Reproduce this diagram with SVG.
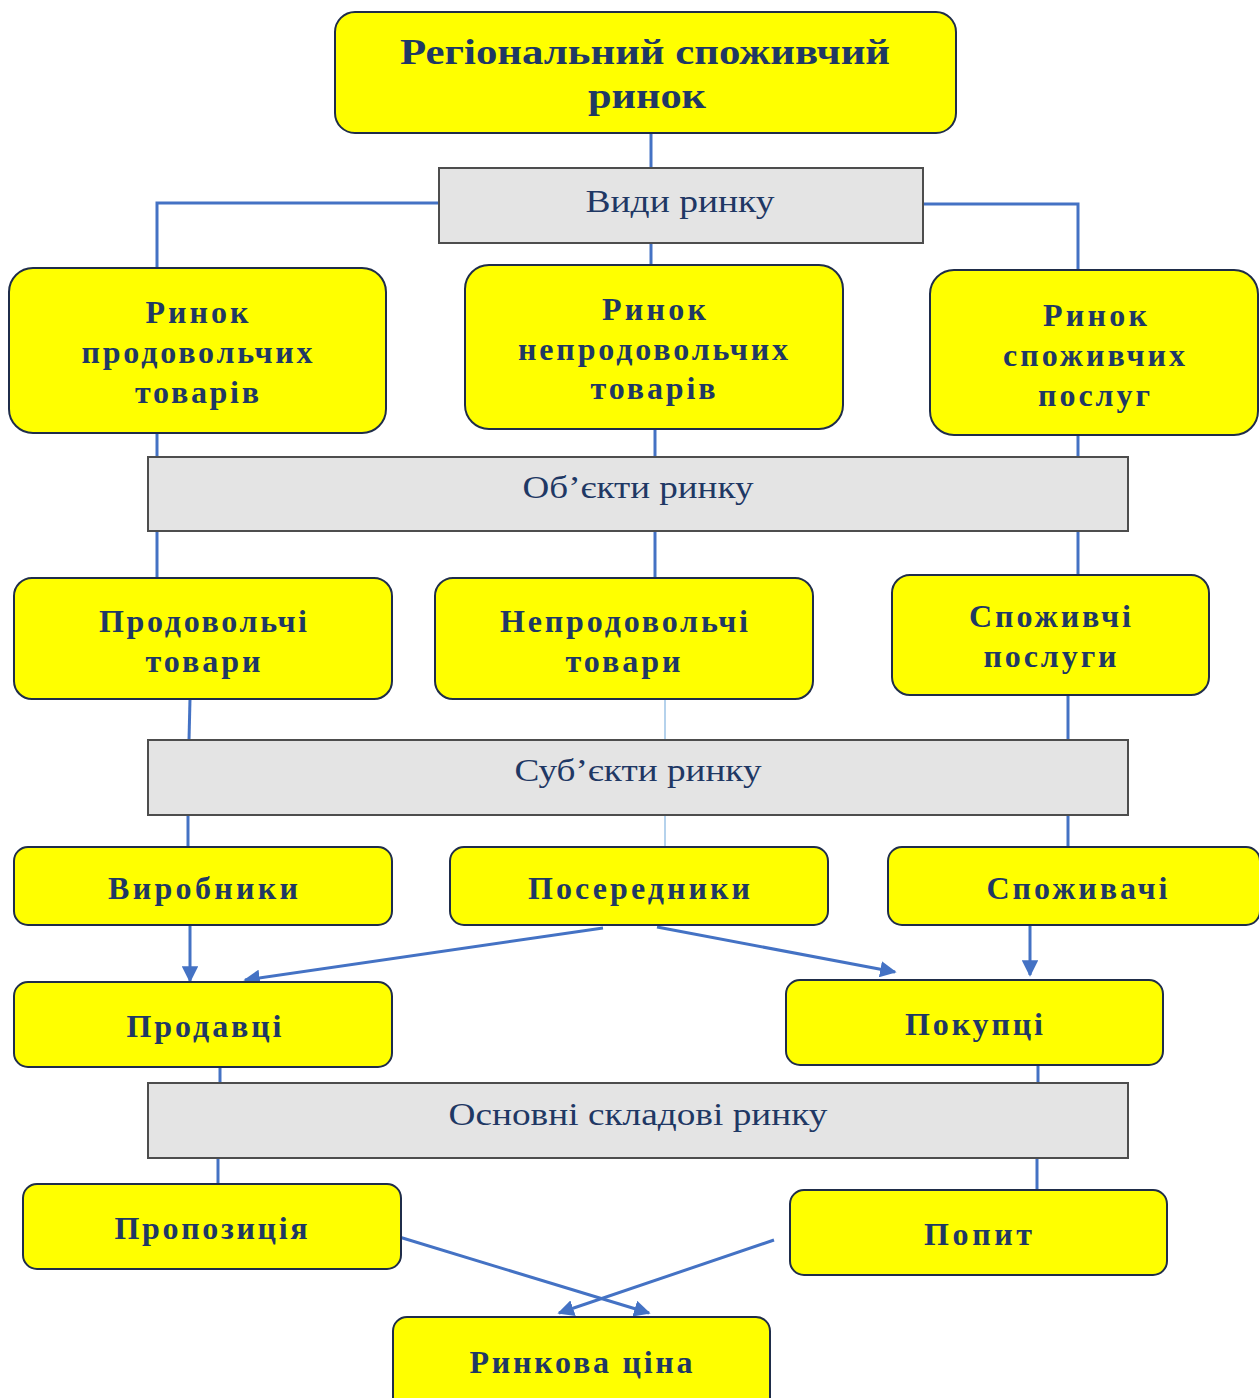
<svg xmlns="http://www.w3.org/2000/svg" width="1259" height="1398" viewBox="0 0 1259 1398">
<defs>
<style>
.n{fill:#ffff00;stroke:#1f2d4a;stroke-width:2}
.g{fill:#e4e4e4;stroke:#4d4d4d;stroke-width:2}
.t{font-family:"Liberation Serif",serif;font-weight:bold;font-size:32px;fill:#1f3864;text-anchor:middle}
.h{font-family:"Liberation Serif",serif;font-weight:bold;font-size:36px;fill:#1f3864;text-anchor:middle}
.l{font-family:"Liberation Serif",serif;font-size:31px;fill:#1f3864;text-anchor:middle}
.c{fill:none;stroke:#4472c4;stroke-width:3}
.c2{fill:none;stroke:#9dc3e6;stroke-width:1.5}
</style>
<marker id="a" viewBox="0 0 10 10" refX="9" refY="5" markerWidth="5.5" markerHeight="5.5" orient="auto" markerUnits="strokeWidth">
<path d="M0,0 L10,5 L0,10 z" fill="#4472c4"/>
</marker>
</defs>
<rect width="1259" height="1398" fill="#ffffff"/>
<g id="connectors">
<path class="c" d="M651,133 V168"/>
<path class="c" d="M439,203 H157 V268"/>
<path class="c" d="M923,204 H1078 V270"/>
<path class="c" d="M651,243 V265"/>
<path class="c" d="M157,433 V457"/>
<path class="c" d="M655,429 V457"/>
<path class="c" d="M1078,435 V457"/>
<path class="c" d="M157,531 V578"/>
<path class="c" d="M655,531 V578"/>
<path class="c" d="M1078,531 V575"/>
<path class="c" d="M190,699 L189,740"/>
<path class="c2" d="M665,699 V740"/>
<path class="c" d="M1068,695 V740"/>
<path class="c" d="M188,815 V847"/>
<path class="c2" d="M665,815 V847"/>
<path class="c" d="M1068,815 V847"/>
<path class="c" d="M190,925 V981" marker-end="url(#a)"/>
<path class="c" d="M603,928 L245,980" marker-end="url(#a)"/>
<path class="c" d="M657,927 L895,972" marker-end="url(#a)"/>
<path class="c" d="M1030,918 V975" marker-end="url(#a)"/>
<path class="c" d="M220,1067 V1083"/>
<path class="c" d="M1038,1065 V1083"/>
<path class="c" d="M218,1158 V1184"/>
<path class="c" d="M1037,1158 V1190"/>
<path class="c" d="M396,1236 L649,1313" marker-end="url(#a)"/>
<path class="c" d="M774,1240 L559,1313" marker-end="url(#a)"/>
</g>
<g id="n-top">
<rect class="n" x="335" y="12" width="621" height="121" rx="20"/>
<text class="h" x="645" y="64" textLength="490" lengthAdjust="spacingAndGlyphs">Регіональний споживчий</text>
<text class="h" x="647" y="108" textLength="118" lengthAdjust="spacingAndGlyphs">ринок</text>
</g>
<g id="n-vydy">
<rect class="g" x="439" y="168" width="484" height="75"/>
<text class="l" x="680" y="212" textLength="189" lengthAdjust="spacingAndGlyphs">Види ринку</text>
</g>
<g id="n-prod-market">
<rect class="n" x="9" y="268" width="377" height="165" rx="24"/>
<text class="t" x="197" y="323" textLength="103" lengthAdjust="spacing">Ринок</text>
<text class="t" x="197" y="363" textLength="231" lengthAdjust="spacing">продовольчих</text>
<text class="t" x="197" y="403" textLength="124" lengthAdjust="spacing">товарів</text>
</g>
<g id="n-nonprod-market">
<rect class="n" x="465" y="265" width="378" height="164" rx="24"/>
<text class="t" x="654" y="320" textLength="104" lengthAdjust="spacing">Ринок</text>
<text class="t" x="653" y="360" textLength="270" lengthAdjust="spacing">непродовольчих</text>
<text class="t" x="653" y="399" textLength="125" lengthAdjust="spacing">товарів</text>
</g>
<g id="n-services-market">
<rect class="n" x="930" y="270" width="328" height="165" rx="24"/>
<text class="t" x="1095" y="326" textLength="104" lengthAdjust="spacing">Ринок</text>
<text class="t" x="1094" y="366" textLength="182" lengthAdjust="spacing">споживчих</text>
<text class="t" x="1094" y="406" textLength="112" lengthAdjust="spacing">послуг</text>
</g>
<g id="n-objects">
<rect class="g" x="148" y="457" width="980" height="74"/>
<text class="l" x="638" y="498" textLength="231" lengthAdjust="spacingAndGlyphs">Об’єкти ринку</text>
</g>
<g id="n-food">
<rect class="n" x="14" y="578" width="378" height="121" rx="18"/>
<text class="t" x="203" y="632" textLength="208" lengthAdjust="spacing">Продовольчі</text>
<text class="t" x="203" y="672" textLength="115" lengthAdjust="spacing">товари</text>
</g>
<g id="n-nonfood">
<rect class="n" x="435" y="578" width="378" height="121" rx="18"/>
<text class="t" x="624" y="632" textLength="248" lengthAdjust="spacing">Непродовольчі</text>
<text class="t" x="623" y="672" textLength="115" lengthAdjust="spacing">товари</text>
</g>
<g id="n-services">
<rect class="n" x="892" y="575" width="317" height="120" rx="18"/>
<text class="t" x="1050" y="627" textLength="162" lengthAdjust="spacing">Споживчі</text>
<text class="t" x="1050" y="667" textLength="133" lengthAdjust="spacing">послуги</text>
</g>
<g id="n-subjects">
<rect class="g" x="148" y="740" width="980" height="75"/>
<text class="l" x="638" y="781" textLength="247" lengthAdjust="spacingAndGlyphs">Суб’єкти ринку</text>
</g>
<g id="n-producers">
<rect class="n" x="14" y="847" width="378" height="78" rx="14"/>
<text class="t" x="203" y="899" textLength="190" lengthAdjust="spacing">Виробники</text>
</g>
<g id="n-intermediaries">
<rect class="n" x="450" y="847" width="378" height="78" rx="14"/>
<text class="t" x="639" y="899" textLength="222" lengthAdjust="spacing">Посередники</text>
</g>
<g id="n-consumers">
<rect class="n" x="888" y="847" width="372" height="78" rx="14"/>
<text class="t" x="1077" y="899" textLength="181" lengthAdjust="spacing">Споживачі</text>
</g>
<g id="n-sellers">
<rect class="n" x="14" y="982" width="378" height="85" rx="14"/>
<text class="t" x="204" y="1037" textLength="155" lengthAdjust="spacing">Продавці</text>
</g>
<g id="n-buyers">
<rect class="n" x="786" y="980" width="377" height="85" rx="14"/>
<text class="t" x="974" y="1035" textLength="138" lengthAdjust="spacing">Покупці</text>
</g>
<g id="n-components">
<rect class="g" x="148" y="1083" width="980" height="75"/>
<text class="l" x="638" y="1125" textLength="379" lengthAdjust="spacingAndGlyphs">Основні складові ринку</text>
</g>
<g id="n-supply">
<rect class="n" x="23" y="1184" width="378" height="85" rx="14"/>
<text class="t" x="211" y="1239" textLength="193" lengthAdjust="spacing">Пропозиція</text>
</g>
<g id="n-demand">
<rect class="n" x="790" y="1190" width="377" height="85" rx="14"/>
<text class="t" x="978" y="1245" textLength="108" lengthAdjust="spacing">Попит</text>
</g>
<g id="n-price">
<rect class="n" x="393" y="1317" width="377" height="95" rx="14"/>
<text class="t" x="581" y="1373" textLength="223" lengthAdjust="spacing">Ринкова ціна</text>
</g>
</svg>
